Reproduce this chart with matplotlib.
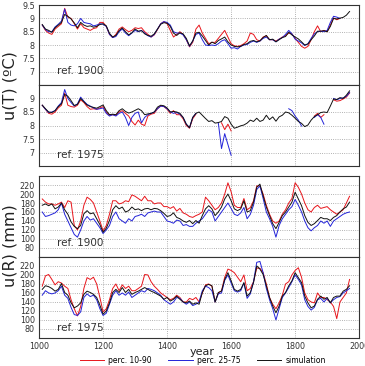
import numpy as np
import matplotlib
matplotlib.use('Agg')
import matplotlib.pyplot as plt

nan = np.nan

# years (10-year steps)
years = np.arange(1010, 1971, 10)

# temperature, ref. 1900
t1_sim = [8.77, 8.60, 8.55, 8.48, 8.65, 8.75, 8.85, 9.15, 9.08, 8.98,
          8.83, 8.65, 8.85, 8.75, 8.70, 8.72, 8.67, 8.70, 8.77, 8.80,
          8.72, 8.44, 8.30, 8.36, 8.54, 8.64, 8.50, 8.38, 8.46, 8.60,
          8.52, 8.54, 8.42, 8.36, 8.33, 8.42, 8.60, 8.78, 8.84, 8.82,
          8.70, 8.45, 8.36, 8.46, 8.42, 8.25, 7.97, 8.15, 8.45, 8.48,
          8.34, 8.17, 8.00, 8.11, 8.05, 8.17, 8.23, 8.30, 8.12, 8.00,
          7.95, 7.93, 7.95, 8.02, 8.05, 8.14, 8.17, 8.12, 8.16, 8.28,
          8.36, 8.20, 8.22, 8.12, 8.20, 8.28, 8.32, 8.48, 8.38, 8.30,
          8.23, 8.12, 8.00, 8.04, 8.20, 8.34, 8.52, 8.52, 8.54, 8.50,
          8.70, 9.00, 8.98, 9.01, 9.04, 9.12, 9.26]
t1_p10 = [8.75, 8.55, 8.45, 8.40, 8.60, 8.70, 8.80, 9.38, 9.05, 9.00,
          8.80, 8.60, 8.80, 8.65, 8.60, 8.55, 8.62, 8.65, 8.85, 8.85,
          8.70, 8.40, 8.28, 8.40, 8.60, 8.68, 8.58, 8.50, 8.55, 8.65,
          8.62, 8.65, 8.50, 8.40, 8.30, 8.38, 8.58, 8.80, 8.88, 8.80,
          8.55, 8.30, 8.40, 8.50, 8.40, 8.20, 7.93, 8.10, 8.60, 8.75,
          8.45, 8.25, 8.05, 8.10, 8.10, 8.25, 8.40, 8.55, 8.30, 8.05,
          7.97, 7.95, 7.98, 8.05, 8.15, 8.45, 8.40, 8.20, 8.15, 8.30,
          8.35, 8.20, 8.20, 8.15, 8.22, 8.30, 8.35, 8.45, 8.42, 8.25,
          8.10, 7.95, 7.88, 7.95, 8.20, 8.50, 8.72, 8.50, 8.55, 8.50,
          8.75, 9.02, 8.95, 9.00, nan, nan, nan]
t1_p25 = [8.75, 8.58, 8.50, 8.50, 8.68, 8.78, 8.90, 9.35, 8.85, 8.75,
          8.72, 8.80, 9.00, 8.85, 8.82, 8.80, 8.72, 8.75, 8.80, 8.78,
          8.70, 8.40, 8.28, 8.32, 8.50, 8.60, 8.45, 8.35, 8.45, 8.55,
          8.50, 8.55, 8.45, 8.35, 8.30, 8.40, 8.60, 8.80, 8.88, 8.85,
          8.75, 8.50, 8.45, 8.45, 8.38, 8.20, 7.95, 8.15, 8.40, 8.45,
          8.20, 8.00, 7.98, 8.00, 7.98, 8.05, 8.15, 8.20, 8.05, 7.88,
          7.90, 7.85, 7.95, 8.00, 8.02, 8.10, 8.15, 8.10, 8.15, 8.25,
          8.30, 8.20, 8.20, 8.12, 8.22, 8.28, 8.40, 8.55, 8.42, 8.22,
          8.15, 8.08, 7.98, 8.05, 8.25, 8.42, 8.50, 8.52, 8.50, 8.55,
          8.85, 9.08, 9.05, 9.00, nan, nan, nan]

# temperature, ref. 1975
t2_sim = [8.75, 8.62, 8.50, 8.48, 8.55, 8.70, 8.80, 9.15, 9.08, 8.92,
          8.74, 8.78, 9.00, 8.88, 8.76, 8.70, 8.67, 8.64, 8.70, 8.76,
          8.55, 8.40, 8.42, 8.40, 8.55, 8.62, 8.52, 8.46, 8.50, 8.56,
          8.62, 8.55, 8.40, 8.43, 8.45, 8.50, 8.68, 8.75, 8.73, 8.65,
          8.50, 8.52, 8.50, 8.45, 8.30, 8.05, 7.92, 8.30, 8.45, 8.50,
          8.38, 8.26, 8.15, 8.18, 8.09, 8.11, 8.15, 8.33, 8.27, 8.05,
          7.90, 7.94, 7.99, 8.02, 8.09, 8.20, 8.15, 8.27, 8.15, 8.20,
          8.38, 8.22, 8.32, 8.16, 8.32, 8.38, 8.50, 8.47, 8.38, 8.27,
          8.15, 8.08, 7.96, 8.02, 8.20, 8.33, 8.40, 8.48, 8.50, 8.48,
          8.72, 8.98, 8.96, 9.03, 9.00, 9.12, 9.28]
t2_p10 = [8.75, 8.60, 8.45, 8.42, 8.50, 8.65, 8.75, 9.20, 8.75, 8.70,
          8.68, 8.75, 8.95, 8.85, 8.70, 8.60, 8.62, 8.60, 8.65, 8.70,
          8.50, 8.38, 8.40, 8.38, 8.50, 8.55, 8.45, 8.35, 8.15, 8.02,
          8.20, 8.05, 8.00, 8.35, 8.42, 8.45, 8.62, 8.72, 8.70, 8.60,
          8.45, 8.55, 8.40, 8.40, 8.25, 8.00, 7.90, 8.25, 8.42, nan,
          nan, nan, nan, nan, nan, nan, 8.10, 7.85, 8.05, 7.80,
          nan, nan, nan, nan, nan, nan, nan, nan, nan, nan,
          nan, nan, nan, nan, nan, nan, nan, nan, nan, nan,
          nan, nan, nan, nan, nan, 8.35, 8.45, 8.30, 8.40, nan,
          nan, 8.95, 8.90, 8.92, 8.98, 9.05, 9.20]
t2_p25 = [8.75, 8.60, 8.48, 8.50, 8.55, 8.72, 8.85, 9.33, 9.00, 8.85,
          8.72, 8.80, 9.05, 8.90, 8.78, 8.72, 8.65, 8.60, 8.62, 8.65,
          8.45, 8.35, 8.40, 8.35, 8.45, 8.50, 8.30, 8.00, 8.30, 8.45,
          8.50, 8.10, 8.30, 8.40, 8.45, 8.50, 8.62, 8.72, 8.70, 8.62,
          8.50, 8.45, 8.48, 8.42, 8.30, 8.05, 7.92, 8.30, 8.45, nan,
          nan, nan, nan, nan, nan, 8.10, 7.15, 7.70, 7.30, 6.90,
          nan, nan, nan, nan, nan, nan, nan, nan, nan, nan,
          nan, nan, nan, nan, nan, nan, nan, 8.62, 8.55, 8.35,
          8.20, 7.98, nan, nan, nan, 8.30, 8.40, 8.30, 8.05, nan,
          nan, 9.00, 8.95, 9.00, 9.02, 9.08, 9.22]

# rainfall, ref. 1900
r1_sim = [175, 178, 174, 178, 167, 171, 180, 165, 155, 138,
          128, 123, 130, 156, 163, 156, 158, 145, 132, 115,
          124, 141, 165, 174, 167, 171, 160, 163, 171, 165,
          167, 163, 167, 168, 165, 168, 167, 163, 157, 150,
          152, 158, 148, 145, 140, 137, 141, 134, 141, 135,
          152, 167, 174, 167, 152, 160, 171, 189, 200, 185,
          167, 163, 167, 185, 160, 163, 182, 215, 222, 196,
          171, 152, 134, 123, 137, 152, 160, 171, 182, 204,
          189, 174, 152, 137, 130, 134, 141, 148, 145, 145,
          141, 148, 152, 160, 167, 171, 182]
r1_p10 = [189, 182, 178, 178, 175, 178, 182, 170, 185, 182,
          130, 120, 140, 175, 193, 188, 180, 160, 140, 118,
          130, 155, 185, 185, 178, 180, 185, 183, 198, 195,
          190, 185, 195, 185, 185, 178, 180, 180, 172, 172,
          168, 172, 162, 168, 158, 155, 150, 148, 152, 155,
          160, 193, 185, 175, 165, 170, 180, 200, 225, 205,
          175, 170, 170, 190, 165, 170, 185, 218, 218, 200,
          175, 155, 140, 135, 140, 155, 165, 180, 190, 225,
          215, 200, 180, 165, 160, 170, 175, 168, 170, 172,
          165, 160, 155, 160, 165, 180, 195]
r1_p25 = [160, 150, 152, 155, 158, 165, 180, 155, 140, 125,
          110, 104, 120, 140, 150, 142, 145, 135, 125, 112,
          120, 130, 150, 160, 145, 140, 135, 145, 140, 150,
          152, 155, 150, 158, 160, 162, 160, 160, 150, 140,
          138, 135, 142, 140, 130, 132, 128, 128, 135, 140,
          145, 155, 165, 160, 140, 150, 160, 170, 180, 168,
          155, 152, 158, 170, 145, 155, 175, 210, 218, 190,
          160, 145, 128, 104, 130, 145, 155, 165, 172, 188,
          175, 160, 140, 125, 118, 125, 130, 140, 135, 140,
          128, 140, 145, 150, 155, 158, 160]

# rainfall, ref. 1975
r2_sim = [168, 176, 174, 170, 164, 168, 181, 161, 155, 138,
          127, 131, 138, 157, 164, 161, 157, 150, 133, 113,
          120, 138, 161, 168, 161, 172, 161, 168, 157, 161,
          164, 168, 172, 168, 164, 161, 157, 153, 146, 150,
          142, 146, 153, 146, 140, 138, 142, 135, 138, 135,
          161, 176, 179, 176, 140, 161, 164, 190, 205, 187,
          168, 164, 168, 183, 153, 161, 183, 220, 213, 201,
          176, 150, 131, 116, 131, 153, 161, 176, 187, 205,
          194, 183, 153, 138, 127, 131, 146, 153, 146, 150,
          138, 150, 153, 153, 164, 168, 176]
r2_p10 = [175, 198, 201, 190, 178, 185, 182, 175, 170, 145,
          125, 109, 130, 170, 194, 190, 195, 180, 150, 118,
          125, 145, 170, 180, 165, 178, 170, 175, 165, 165,
          170, 175, 201, 200, 185, 175, 168, 160, 155, 150,
          145, 148, 155, 150, 140, 140, 148, 145, 150, 140,
          160, 178, 180, 175, 140, 160, 165, 195, 213, 210,
          205, 195, 185, 200, 165, 170, 185, 215, 215, 205,
          180, 150, 135, 125, 138, 155, 180, 185, 200, 210,
          216, 195, 160, 145, 140, 138, 160, 150, 150, 145,
          140, 130, 103, 140, 150, 160, 190]
r2_p25 = [155, 165, 160, 158, 160, 165, 175, 155, 148, 128,
          112, 110, 118, 150, 158, 152, 155, 145, 125, 110,
          115, 135, 155, 165, 155, 160, 155, 162, 150, 155,
          160, 165, 162, 170, 168, 165, 160, 155, 145, 140,
          135, 140, 150, 148, 140, 135, 140, 132, 135, 140,
          165, 175, 172, 165, 140, 158, 160, 188, 200, 182,
          165, 162, 165, 182, 148, 158, 185, 228, 230, 205,
          170, 145, 125, 100, 125, 150, 160, 172, 185, 200,
          190, 178, 145, 130, 122, 128, 145, 148, 140, 148,
          138, 145, 150, 152, 160, 165, 170]

fig = plt.figure(figsize=(3.65, 3.66), dpi=100)

L, W = 0.107, 0.877
axes = [fig.add_axes([L, 0.768, W, 0.218]),
        fig.add_axes([L, 0.546, W, 0.222]),
        fig.add_axes([L, 0.298, W, 0.221]),
        fig.add_axes([L, 0.0765, W, 0.2215])]

panels = [(t1_sim, t1_p10, t1_p25, 'ref. 1900', 0.17),
          (t2_sim, t2_p10, t2_p25, 'ref. 1975', 0.135),
          (r1_sim, r1_p10, r1_p25, 'ref. 1900', 0.17),
          (r2_sim, r2_p10, r2_p25, 'ref. 1975', 0.12)]

for i, (ax, (sim, p10, p25, ref, ty)) in enumerate(zip(axes, panels)):
    ax.plot(years, p10, color='#e8151b', lw=0.7, label='perc. 10-90')
    ax.plot(years, p25, color='#2323d8', lw=0.7, label='perc. 25-75')
    ax.plot(years, sim, color='#111111', lw=0.7, label='simulation')
    ax.set_xlim(1000, 2000)
    ax.set_xticks(range(1000, 2001, 200))
    if i < 2:
        ax.set_ylim(6.5, 9.5)
        if i == 0:
            ax.set_yticks([7, 7.5, 8, 8.5, 9, 9.5])
            ax.set_yticklabels(['7', '7.5', '8', '8.5', '9', '9.5'])
        else:
            ax.set_yticks([7, 7.5, 8, 8.5, 9])
            ax.set_yticklabels(['7', '7.5', '8', '8.5', '9'])
    else:
        ax.set_ylim(60, 240)
        ax.set_yticks(range(80, 221, 20))
    ax.grid(True, ls=':', color='#999999', lw=0.6)
    ax.tick_params(length=0, labelsize=5.8, labelcolor='#333333', pad=3)
    if i < 3:
        ax.tick_params(labelbottom=False)
    for s in ax.spines.values():
        s.set_linewidth(0.8)
        s.set_color('#333333')
    ax.text(0.056, ty, ref, transform=ax.transAxes, fontsize=7.5,
            va='center', color='#333333')

fig.text(0.027, 0.765, 'u(T) (ºC)', rotation=90, fontsize=11.5,
         ha='center', va='center', color='#222222')
fig.text(0.027, 0.33, 'u(R) (mm)', rotation=90, fontsize=11.5,
         ha='center', va='center', color='#222222')
fig.text(0.553, 0.038, 'year', fontsize=8, ha='center', va='center',
         color='#222222')

h, l = axes[3].get_legend_handles_labels()
fig.legend(h, l, loc='center', bbox_to_anchor=(0.555, 0.016), ncol=3,
           fontsize=5.5, frameon=False, handlelength=3.2, columnspacing=2.2,
           handletextpad=0.5)

fig.savefig('out.png', dpi=100)
